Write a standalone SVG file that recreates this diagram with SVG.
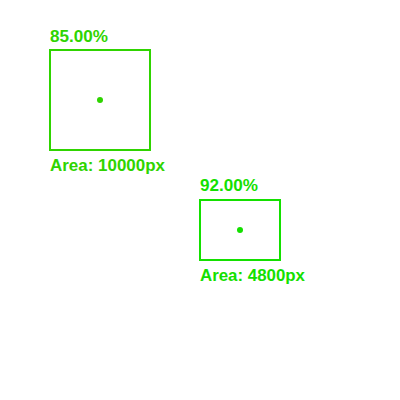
<svg xmlns="http://www.w3.org/2000/svg" width="400" height="400" viewBox="0 0 400 400">
<style>
.t{font-family:"Liberation Sans",Arial,sans-serif;font-weight:bold;font-size:16px}
.b{fill:none;stroke-width:2}
</style>
<rect width="400" height="400" fill="#ffffff"/>
<g id="det1" fill="#2fd400" stroke="#2fd400">
<rect class="b" x="50" y="50" width="100" height="100"/>
<circle cx="100" cy="100" r="3" stroke="none"/>
<text class="t" x="50" y="42" stroke="none" textLength="58" lengthAdjust="spacingAndGlyphs">85.00%</text>
<text class="t" x="50" y="171" stroke="none" textLength="115" lengthAdjust="spacingAndGlyphs">Area: 10000px</text>
</g>
<g id="det2" fill="#14e000" stroke="#14e000">
<rect class="b" x="200" y="200" width="80" height="60"/>
<circle cx="240" cy="230" r="3" stroke="none"/>
<text class="t" x="200" y="191" stroke="none" textLength="58" lengthAdjust="spacingAndGlyphs">92.00%</text>
<text class="t" x="200" y="281" stroke="none" textLength="105" lengthAdjust="spacingAndGlyphs">Area: 4800px</text>
</g>
<g id="connectors"/>
</svg>
